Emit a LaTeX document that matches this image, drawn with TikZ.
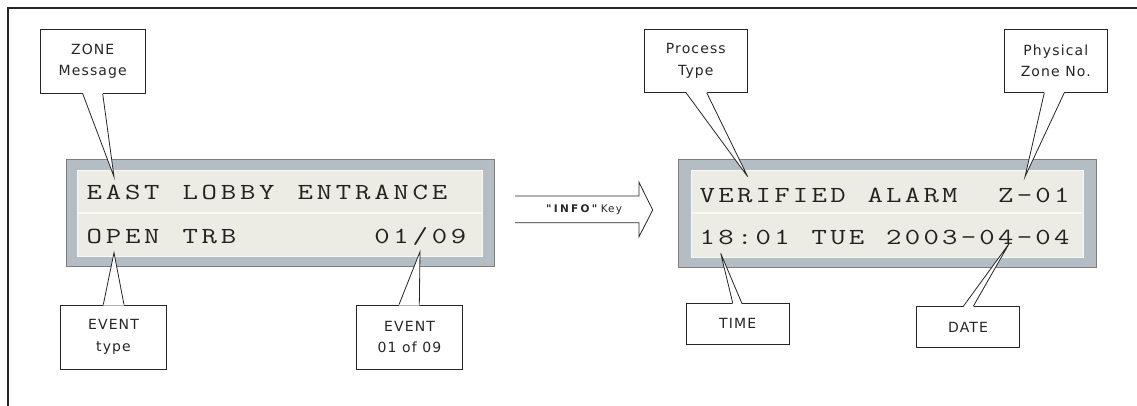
\documentclass[tikz,border=0pt]{standalone}
\usepackage{fontspec}
\usepackage{graphicx}
\usetikzlibrary{calc}
\newfontfamily\labelfont[LetterSpace=8]{DejaVu Sans}
\newfontfamily\infofont[LetterSpace=22]{DejaVu Sans}
\newfontfamily\keyfont[LetterSpace=10]{DejaVu Sans}
\definecolor{lcdgray}{RGB}{181,189,196}
\definecolor{lcdedge}{RGB}{125,125,125}
\definecolor{lcdface}{RGB}{236,236,228}
\definecolor{lcdline}{RGB}{248,248,244}
\definecolor{ink}{RGB}{34,34,34}
\def\lcdpitch{19}
\def\lcdloop#1{\ifx\relax#1\else\makebox[\lcdpitch pt][l]{\scalebox{1.3}[1]{#1}}\expandafter\lcdloop\fi}
\newcommand\lcdtext[2]{\def\lcdpitch{#1}{\ttfamily\fontsize{23}{26}\selectfont\lcdloop#2\relax}}
\tikzset{
  callout/.style={draw=black!85, fill=white, line width=0.8pt, align=center,
    font=\labelfont\fontsize{14}{21.5}\selectfont, text=black!85, inner sep=0pt},
  pointer/.style={draw=black!85, line width=0.8pt, line join=miter},
  lcdouter/.style={draw=lcdedge, fill=lcdgray, line width=1pt, inner sep=0pt},
  lcdinner/.style={fill=lcdface, draw=lcdline, line width=0.8pt, inner sep=0pt},
  lcdrow/.style={anchor=base west, inner sep=0pt, text=ink},
}
\begin{document}
\begin{tikzpicture}[x=1pt,y=-1pt]
\useasboundingbox (0,0) rectangle (1137,406);
% frame
\draw[line width=1.6pt, black!85] (8,410) -- (8,8) -- (1140,8);

% ---------- left LCD ----------
\node[lcdouter, minimum width=428, minimum height=106] (lcdA) at (280,213) {};
\node[lcdinner, minimum width=405, minimum height=86] (lcdAin) at (279.5,213) {};
\draw[lcdline, line width=1.6pt] (lcdAin.west |- 0,213) -- (lcdAin.east |- 0,213);
\node[lcdrow] (rowA1) at (86.5,200) {\lcdtext{19.17}{EAST~LOBBY~ENTRANCE}};
\node[lcdrow] (rowA2) at (86.5,243) {\lcdtext{19.17}{OPEN~TRB~~~~~~~01/09}};

% ---------- right LCD ----------
\node[lcdouter, minimum width=418, minimum height=107] (lcdB) at (887,213.5) {};
\node[lcdinner, minimum width=392, minimum height=87] (lcdBin) at (887,213.5) {};
\draw[lcdline, line width=1.6pt] (lcdBin.west |- 0,213) -- (lcdBin.east |- 0,213);
\node[lcdrow] (rowB1) at (699.5,202) {\lcdtext{18.65}{VERIFIED~ALARM~~Z-01}};
\node[lcdrow] (rowB2) at (699.5,244) {\lcdtext{18.65}{18:01~TUE~2003-04-04}};

% ---------- arrow ----------
\draw[line width=0.8pt, black!85, line join=miter]
  (515,196) -- (639,196) -- (639,182.3) -- (652.7,210) -- (639,236.7) -- (639,222.7) -- (515,222.7);
\node[inner sep=0pt, text=black!85] (infokey) at (584,210)
  {\fontsize{10.5}{12}\selectfont{\infofont\bfseries "INFO"} {\keyfont Key}};

% ---------- callouts ----------
\node[callout, minimum width=105.3, minimum height=64] (zone) at (92.7,61.3) {ZONE\\Message};
\node[callout, minimum width=106.4, minimum height=64] (evtype) at (113.5,337) {EVENT\\type};
\node[callout, minimum width=105.6, minimum height=64] (evnum) at (409.5,337) {EVENT\\01 of 09};
\node[callout, minimum width=103, minimum height=63] (proc) at (695.8,60.8) {Process\\Type};
\node[callout, minimum width=103, minimum height=63] (phys) at (1055.8,60.8) {Physical\\Zone No.};
\node[callout, minimum width=103.3, minimum height=40.7] (time) at (737.7,323.7) {TIME};
\node[callout, minimum width=102.6, minimum height=41] (date) at (968,327.2) {DATE};

% pointer tips
\coordinate (tzone) at (114,176.7);
\coordinate (tevtype) at (114,252.7);
\coordinate (tevnum) at (420,251.7);
\coordinate (tproc) at (747.7,176.7);
\coordinate (tphys) at (1025,176.7);
\coordinate (ttime) at (720.7,253.3);
\coordinate (tdate) at (1009.3,243.3);

% pointers
\foreach \n/\a/\b in {zone/82.7/102.7, proc/686/706.7, phys/1044.3/1064.3}{
  \fill[white] ($(\a,0 |- \n.south)+(0,-1)$) -- (t\n) -- ($(\b,0 |- \n.south)+(0,-1)$) -- cycle;
  \draw[pointer] (\a,0 |- \n.south) -- (t\n) -- (\b,0 |- \n.south);
}
\foreach \n/\a/\b in {evtype/103.3/124, evnum/399/419.3, time/732.7/741.7, date/963.3/973.3}{
  \fill[white] ($(\a,0 |- \n.north)+(0,1)$) -- (t\n) -- ($(\b,0 |- \n.north)+(0,1)$) -- cycle;
  \draw[pointer] (\a,0 |- \n.north) -- (t\n) -- (\b,0 |- \n.north);
}
\end{tikzpicture}
\end{document}
